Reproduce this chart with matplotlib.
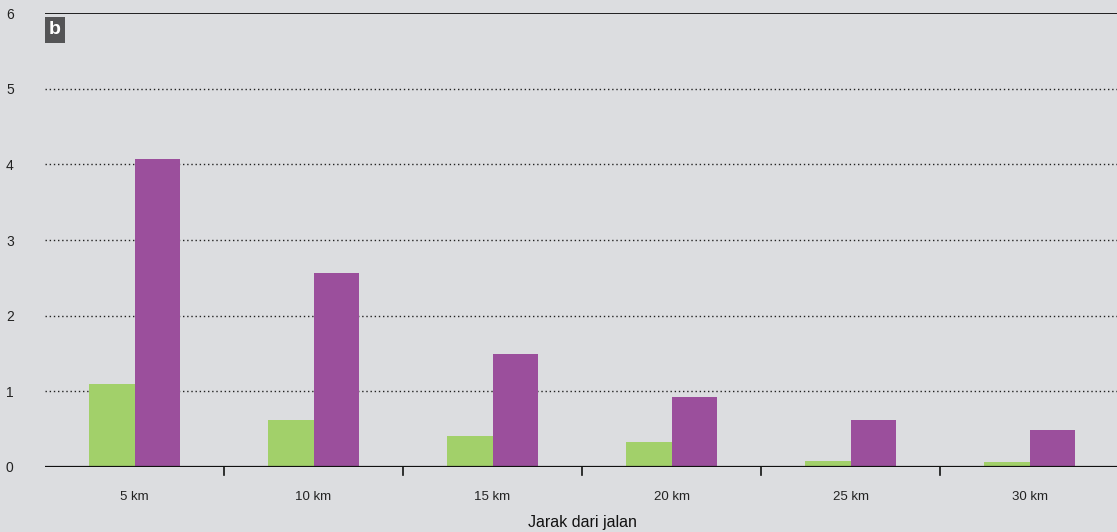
import matplotlib
matplotlib.use("Agg")
import matplotlib.pyplot as plt
import numpy as np

categories = ["5 km", "10 km", "15 km", "20 km", "25 km", "30 km"]
green_values = [1.10, 0.62, 0.41, 0.33, 0.08, 0.07]
purple_values = [4.07, 2.56, 1.49, 0.92, 0.62, 0.49]
y_ticks = [0, 1, 2, 3, 4, 5, 6]
x_label = "Jarak dari jalan"
panel_label = "b"

plt.rcParams['font.family'] = ['Liberation Sans', 'DejaVu Sans']

bg = "#dcdde0"
green = "#a2d06a"
purple = "#9b4f9c"

fig = plt.figure(figsize=(11.17, 5.32), dpi=100, facecolor=bg)
ax = fig.add_axes([45/1117, 1-467/532, 1074/1117, (467-13)/532])
ax.set_facecolor(bg)

x = np.arange(len(categories))
w = 0.255
ax.bar(x - w/2, green_values, width=w, color=green, zorder=3)
ax.bar(x + w/2, purple_values, width=w, color=purple, zorder=3)

ax.set_xlim(-0.5, len(categories) - 0.5)
ax.set_ylim(0, 6)

for s in ax.spines.values():
    s.set_visible(False)

for yv in y_ticks[1:-1]:
    ax.axhline(yv, color="#222222", lw=1.0, ls=(0, (1, 2)), zorder=1)
ax.axhline(6, color="#111111", lw=1.3, zorder=4)
ax.axhline(0, color="#111111", lw=1.6, zorder=4)

ax.set_xticks(x)
ax.set_xticklabels(categories, fontsize=9.5, color="#222222")
ax.tick_params(axis="x", length=0, pad=17)
for b in x[:-1] + 0.5:
    ax.plot([b, b], [0, -0.11], color="#111111", lw=1.2, clip_on=False, zorder=4)

ax.set_yticks(y_ticks)
ax.set_yticklabels([str(v) for v in y_ticks], fontsize=10, color="#222222")
ax.tick_params(axis="y", length=0, pad=22.5)

ax.set_xlabel(x_label, fontsize=11.5, color="#111111", labelpad=9)

fig.text(49/1117, 1-30/532, panel_label, fontsize=14, fontweight="bold", color="white",
         va="center", ha="left",
         bbox=dict(boxstyle="square,pad=0.22", fc="#545456", ec="none"))

fig.savefig("out.png", dpi=100, facecolor=bg)
